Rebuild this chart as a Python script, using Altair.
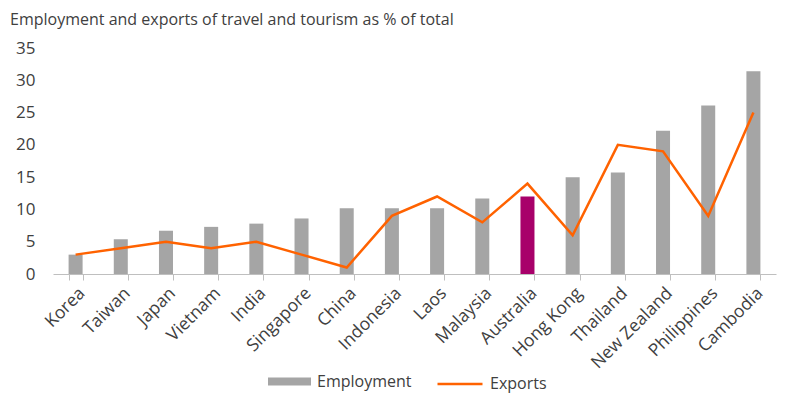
import altair as alt
import pandas as pd

countries = ["Korea", "Taiwan", "Japan", "Vietnam", "India", "Singapore", "China",
             "Indonesia", "Laos", "Malaysia", "Australia", "Hong Kong", "Thailand",
             "New Zealand", "Philippines", "Cambodia"]
employment = [3.0, 5.4, 6.7, 7.3, 7.8, 8.6, 10.2, 10.2, 10.2, 11.7, 12.0, 15.0, 15.7, 22.2, 26.1, 31.4]
exports = [3, 4, 5, 4, 5, 3, 1, 9, 12, 8, 14, 6, 20, 19, 9, 25]
y_ticks = [0, 5, 10, 15, 20, 25, 30, 35]
highlight = "Australia"

df = pd.DataFrame({
    "country": countries,
    "employment": employment,
    "exports": exports,
})
df["barcat"] = ["Australia" if c == highlight else "Employment" for c in countries]
df["linecat"] = "Exports"

FONT = "Open Sans"
TXT = "#404040"

x = alt.X("country:N", sort=countries, title=None,
          scale=alt.Scale(paddingInner=0.69, paddingOuter=0.345),
          axis=alt.Axis(labelAngle=-45, labelFontSize=17.5, labelColor=TXT, labelFont=FONT,
                        domainColor="#bfbfbf", tickColor="#bfbfbf", tickBand="extent",
                        tickSize=6, labelPadding=4, labelOverlap=False))

yscale = alt.Scale(domain=[0, 35], nice=False, zero=True)
yaxis = alt.Axis(values=y_ticks, grid=False, domain=False,
                 ticks=False, labelFontSize=17, labelColor=TXT, labelFont=FONT,
                 labelPadding=18, labelOverlap=False)

bars = alt.Chart(df).mark_bar().encode(
    x=x,
    y=alt.Y("employment:Q", title=None, scale=yscale, axis=yaxis),
    color=alt.Color("barcat:N",
                    scale=alt.Scale(domain=["Employment", "Australia"], range=["#a5a5a5", "#a8006a"]),
                    legend=alt.Legend(title=None, values=["Employment"], orient="none",
                                      legendX=215, legendY=312,
                                      symbolType="M-1,-0.186H1V0.186H-1Z", symbolSize=1849,
                                      symbolStrokeWidth=0, labelFontSize=16, labelFont=FONT,
                                      labelColor=TXT, labelOffset=6)),
)

line = alt.Chart(df).mark_line(strokeWidth=2.5).encode(
    x=x,
    y=alt.Y("exports:Q", title=None, scale=yscale, axis=yaxis),
    stroke=alt.Stroke("linecat:N",
                      scale=alt.Scale(domain=["Exports"], range=["#ff6200"]),
                      legend=alt.Legend(title=None, orient="none", legendX=383, legendY=312,
                                        symbolType="stroke",
                                        symbolSize=2025, symbolStrokeWidth=2.5,
                                        labelFontSize=16, labelFont=FONT, labelColor=TXT,
                                        labelOffset=6)),
)

chart = alt.layer(bars, line).properties(
    width=723, height=226,
    autosize="none",
    padding={"left": 45, "top": 40, "right": 16, "bottom": 130},
    title=alt.TitleParams("Employment and exports of travel and tourism as % of total",
                          anchor="start", frame="group", dx=-43, offset=11,
                          fontSize=16, fontWeight="normal", font=FONT, color=TXT),
).configure_view(stroke=None)

chart.save("out.html", embed_options={"renderer": "svg", "actions": False})
